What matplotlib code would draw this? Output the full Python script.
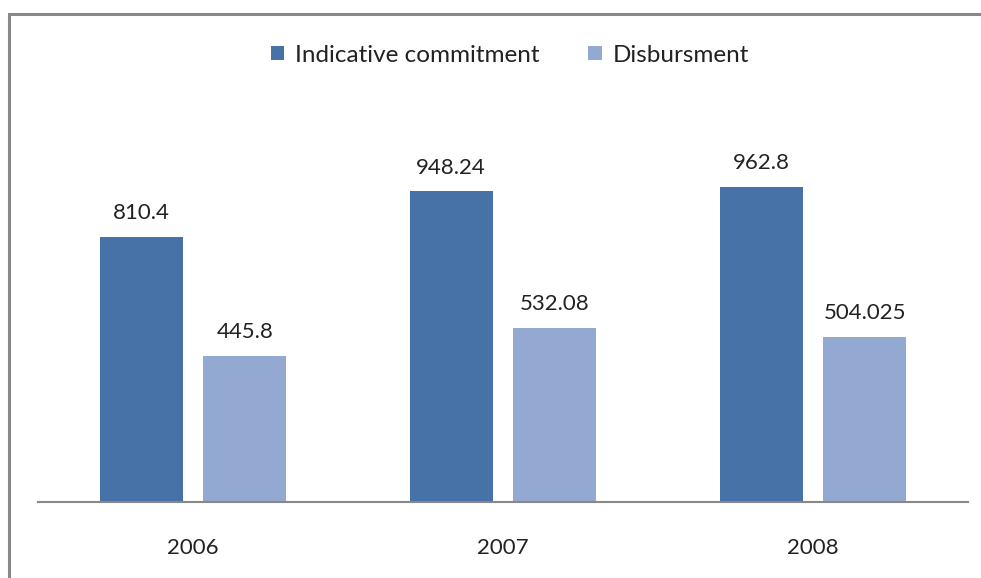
import numpy as np
import matplotlib
matplotlib.use("Agg")
import matplotlib.pyplot as plt
from matplotlib.patches import Rectangle

years = ["2006", "2007", "2008"]
commitment = [810.4, 948.24, 962.8]
disbursment = [445.8, 532.08, 504.025]
commitment_labels = ["810.4", "948.24", "962.8"]
disbursment_labels = ["445.8", "532.08", "504.025"]

dark = "#4672A7"
light = "#94A9D1"

plt.rcParams["font.family"] = ["Lato", "DejaVu Sans"]

W, H = 981, 578
fig = plt.figure(figsize=(W / 100, H / 100), dpi=100)

# outer frame of the chart area (runs off the right and bottom edges)
fig.patches.append(Rectangle((9 / W, -0.1), 1.2, 1 - 14 / H + 0.1,
                             transform=fig.transFigure, fill=False,
                             edgecolor="#888888", linewidth=2.2))

ax = fig.add_axes([38 / W, (H - 502) / H, (968 - 38) / W, (502 - 109) / H])

x = np.arange(len(years))
bw = 0.268
off = 0.167
b1 = ax.bar(x - off, commitment, bw, color=dark, label="Indicative commitment")
b2 = ax.bar(x + off, disbursment, bw, color=light, label="Disbursment")

for bars, labels in ((b1, commitment_labels), (b2, disbursment_labels)):
    for rect, lab in zip(bars, labels):
        ax.annotate(lab, (rect.get_x() + rect.get_width() / 2, rect.get_height()),
                    xytext=(0, 10), textcoords="offset points",
                    ha="center", va="bottom", fontsize=16, color="#222222")

ax.set_xlim(-0.5, 2.5)
ax.set_ylim(0, 1200)
ax.set_xticks(x)
ax.set_xticklabels(years, fontsize=16, color="#222222")
ax.tick_params(axis="x", length=0, pad=26)
ax.set_yticks([])
for s in ("top", "right", "left"):
    ax.spines[s].set_visible(False)
ax.spines["bottom"].set_color("#888888")
ax.spines["bottom"].set_linewidth(1.5)

fig.legend(handles=[b1, b2], loc="center", bbox_to_anchor=(510 / W, 1 - 55 / H),
           ncol=2, frameon=False, fontsize=17.5, handlelength=0.55, handleheight=0.55,
           handletextpad=0.45, columnspacing=2.0, labelcolor="#222222")

fig.savefig("out.png", dpi=100, facecolor="white")
